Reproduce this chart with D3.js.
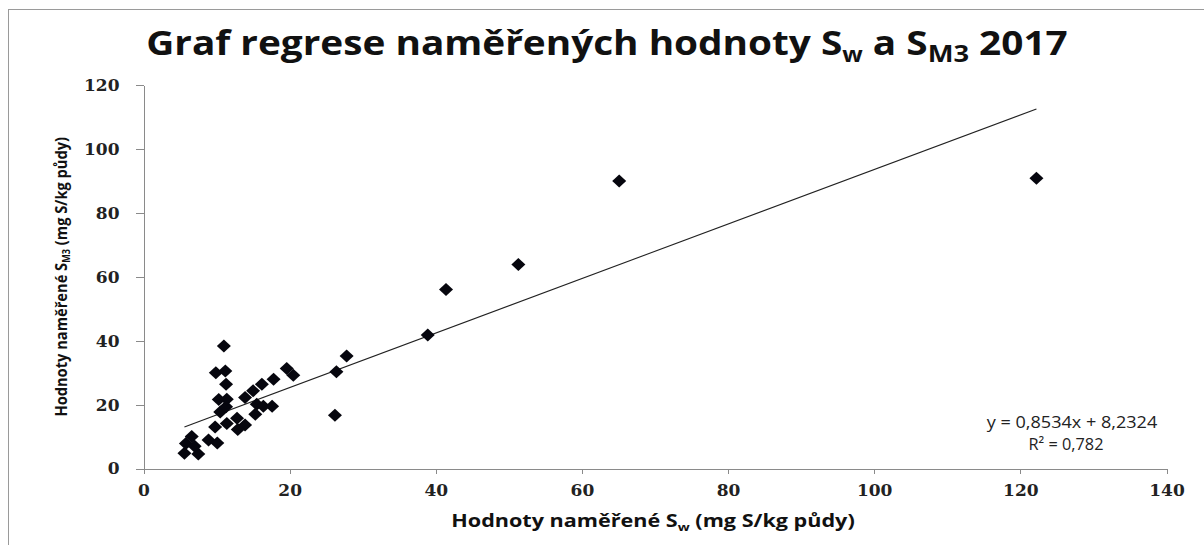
<html>
  <head>
    <meta charset="utf-8">
    <title>Graf regrese</title>
  </head>
  <style>
    body { margin: 0; background: #fff; }
    .axis path,
    .axis line {
      fill: none;
      stroke: #8a8a8a;
      shape-rendering: crispEdges;
    }
    .axis text {
      font-family: "DejaVu Serif", serif;
      font-weight: bold;
      font-size: 17px;
      fill: #222;
    }
    .title {
      font-family: "Open Sans", sans-serif;
      font-weight: bold;
      fill: #111;
    }
    .lbl {
      font-family: "Open Sans", sans-serif;
      font-weight: bold;
      fill: #111;
    }
    .eq {
      font-family: "Open Sans", sans-serif;
      font-size: 17px;
      fill: #222;
    }
  </style>
  <body>
    <div id="chart"></div>
    <script src="https://cdn.jsdelivr.net/npm/d3@7/dist/d3.min.js"></script>
    <script>

      // measured values: S_w (x) and S_M3 (y), mg S/kg půdy
      var sw  = [5.6, 7.5, 5.8, 6.6, 7.0, 8.9, 10.1, 9.8, 11.4, 12.8, 13.9, 12.9,
                 10.5, 11.3, 10.3, 11.4, 11.3, 9.9, 11.2, 11.0,
                 13.9, 15.0, 16.2, 17.8, 15.5, 16.4, 17.6, 15.3,
                 19.6, 20.5, 26.4, 27.8, 26.2,
                 38.9, 41.4, 51.3, 65.1, 122.2];
      var sm3 = [4.8, 4.5, 7.8, 10.0, 7.0, 8.9, 8.0, 13.0, 14.1, 15.7, 13.6, 12.2,
                 17.7, 19.3, 21.6, 21.7, 26.4, 30.0, 30.5, 38.3,
                 22.2, 24.3, 26.4, 27.9, 20.1, 19.5, 19.5, 17.0,
                 31.3, 29.2, 30.3, 35.2, 16.7,
                 41.8, 56.0, 63.8, 90.0, 90.8];

      // linear trendline as reported in the chart
      var slope     = 0.8534,
          intercept = 8.2324,
          r2label   = "0,782";

      var xTicks = [0, 20, 40, 60, 80, 100, 120, 140],
          yTicks = [0, 20, 40, 60, 80, 100, 120];

      var data = sw.map(function(v, i){ return {x: v, y: sm3[i]}; });

      var W = 1204, H = 545;

      var x = d3.scaleLinear().domain([0, 140]).range([143.5, 1166.5]);
      var y = d3.scaleLinear().domain([0, 120]).range([468.5, 85]);

      var svg = d3.select("#chart").append("svg")
                  .attr("width", W)
                  .attr("height", H);

      // outer chart border (right and bottom sit outside the picture)
      svg.append("rect")
         .attr("x", 8.5).attr("y", 9.5)
         .attr("width", 1220).attr("height", 560)
         .attr("fill", "none")
         .attr("stroke", "#9a9a9a");

      var gX = svg.append("g")
                  .attr("class", "x axis")
                  .attr("transform", "translate(0," + y(0) + ")")
                  .call(d3.axisBottom(x).tickValues(xTicks).tickSize(5).tickPadding(10).tickSizeOuter(0));

      var gY = svg.append("g")
                  .attr("class", "y axis")
                  .attr("transform", "translate(" + x(0) + ",0)")
                  .call(d3.axisLeft(y).tickValues(yTicks).tickSize(8).tickPadding(16).tickSizeOuter(0));

      // trendline over the range of the data
      var xr = d3.extent(data, function(d){ return d.x; });
      svg.append("line")
         .attr("x1", x(xr[0])).attr("y1", y(slope * xr[0] + intercept))
         .attr("x2", x(xr[1])).attr("y2", y(slope * xr[1] + intercept))
         .attr("stroke", "#222")
         .attr("stroke-width", 1.1);

      svg.append("g").selectAll("path")
         .data(data)
         .enter().append("path")
         .attr("d", "M0,-6.5L7,0L0,6.5L-7,0Z")
         .attr("fill", "#06060e")
         .attr("transform", function(d){ return "translate(" + x(d.x) + "," + y(d.y) + ")"; });

      // stretch a centred text horizontally to a wanted width (the original is a stretched image)
      function fit(sel, cx, cy, w, rot) {
        var bw = sel.node().getBBox().width;
        sel.attr("transform", "translate(" + cx + "," + cy + ")" + (rot ? " rotate(" + rot + ")" : "") +
                              " scale(" + (w / bw) + ",1)");
      }

      /*
        title and axis titles
      */
      var t = svg.append("text")
                 .attr("class", "title")
                 .attr("text-anchor", "middle")
                 .style("font-size", "34px");
      t.append("tspan").text("Graf regrese naměřených hodnoty S");
      t.append("tspan").attr("dy", 7).style("font-size", "21px").text("w");
      t.append("tspan").attr("dy", -7).text(" a S");
      t.append("tspan").attr("dy", 7).style("font-size", "24px").text("M3");
      t.append("tspan").attr("dy", -7).text(" 2017");
      fit(t, 607, 55, 922);

      var xl = svg.append("text")
                  .attr("class", "lbl")
                  .attr("text-anchor", "middle")
                  .style("font-size", "17px");
      xl.append("tspan").text("Hodnoty naměřené S");
      xl.append("tspan").attr("dy", 4).style("font-size", "11px").text("w");
      xl.append("tspan").attr("dy", -4).text(" (mg S/kg půdy)");
      fit(xl, 653, 527, 404);

      var yl = svg.append("text")
                  .attr("class", "lbl")
                  .attr("text-anchor", "middle")
                  .style("font-size", "16px");
      yl.append("tspan").text("Hodnoty naměřené S");
      yl.append("tspan").attr("dy", 3).style("font-size", "10px").text("M3");
      yl.append("tspan").attr("dy", -3).text(" (mg S/kg půdy)");
      fit(yl, 67, (y(0) + y(120)) / 2, 280, -90);

      var eq1 = svg.append("text").attr("class", "eq")
         .attr("text-anchor", "middle")
         .text("y = " + String(slope).replace(".", ",") + "x + " + String(intercept).replace(".", ","));
      fit(eq1, 1072, 428, 171);
      var eq2 = svg.append("text").attr("class", "eq")
         .attr("text-anchor", "middle")
         .text("R² = " + r2label);
      fit(eq2, 1066, 450, 75);

    </script>
  </body>
</html>
